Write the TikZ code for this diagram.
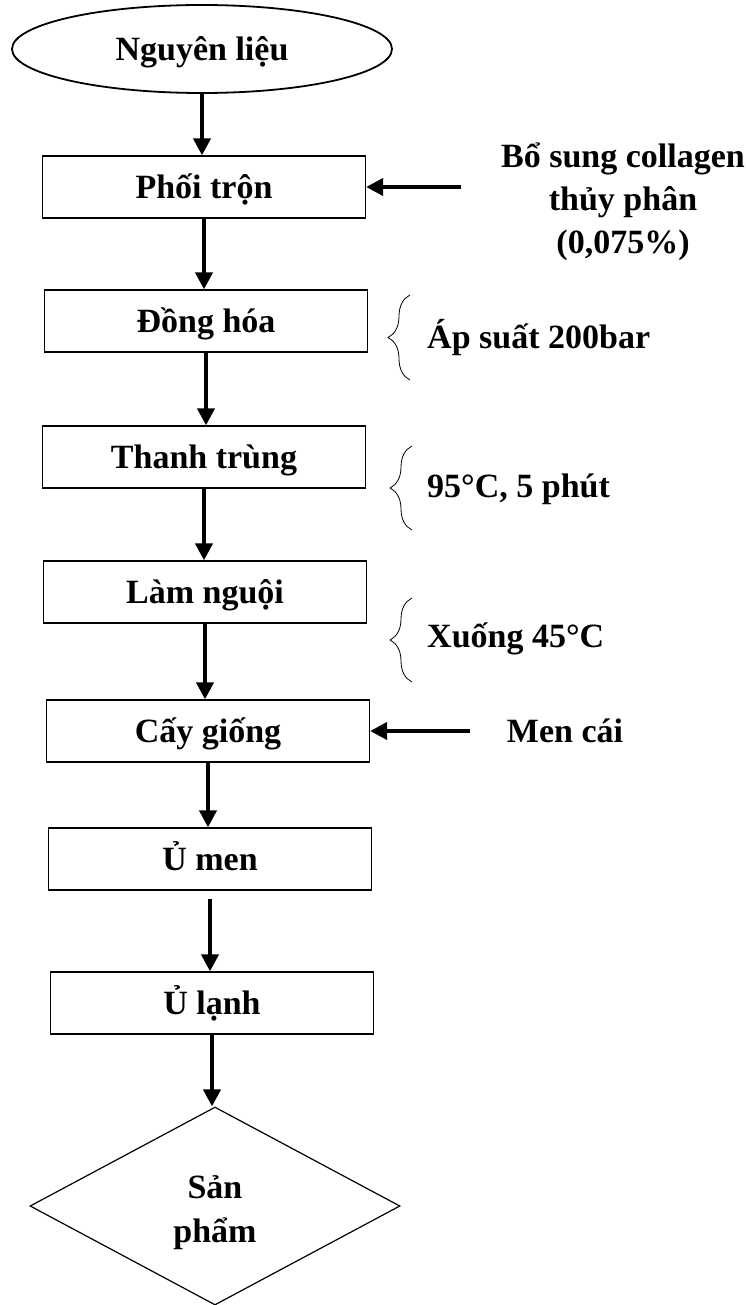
\documentclass[tikz,border=0pt]{standalone}
\usepackage{fontspec}
\setmainfont{Liberation Serif}
\usetikzlibrary{arrows.meta,positioning,shapes.geometric,decorations.pathreplacing}

\begin{document}
\begin{tikzpicture}[x=1pt,y=-1pt,
                font=\bfseries\fontsize{34}{43}\selectfont,
                flow/.style={-{Triangle[length=17pt,width=17pt]},line width=4pt},
                stage node/.style={rectangle,draw,line width=1.3pt,minimum width=323pt,minimum height=62pt,
                                   text height=24pt,text depth=1pt},
                note node/.style={inner sep=0pt,anchor=west},
                curly/.style={decorate,decoration={brace,amplitude=22pt},line width=0.8pt}]

      \useasboundingbox (0,0) rectangle (745,1305);

      \node[ellipse,draw,line width=1.8pt,minimum width=380pt,minimum height=88pt,
            text height=24pt,text depth=0pt] (nl) at (202,49) {Nguyên liệu};
      \node[stage node] (pt) at (204,187) {Phối trộn};
      \node[stage node] (dh) at (206,321) {Đồng hóa};
      \node[stage node] (tt) at (204,457) {Thanh trùng};
      \node[stage node] (ln) at (205,592) {Làm nguội};
      \node[stage node] (cg) at (208,731) {Cấy giống};
      \node[stage node] (um) at (210,859) {Ủ men};
      \node[stage node] (ul) at (212,1003) {Ủ lạnh};
      \node[diamond,draw,line width=1.2pt,aspect=1.85,minimum width=370pt,minimum height=198pt,
            align=center,font=\bfseries\fontsize{34}{44}\selectfont] (sp) at (215,1206) {};
      \node[align=center,font=\bfseries\fontsize{34}{44}\selectfont] (sptext) at (215,1213) {Sản\\phẩm};

      % main flow
      \draw[flow] (nl.south) -- (nl.south |- pt.north);
      \draw[flow] (pt.south) -- (pt.south |- dh.north);
      \draw[flow] (dh.south) -- (dh.south |- tt.north);
      \draw[flow] (tt.south) -- (tt.south |- ln.north);
      \draw[flow] (ln.south) -- (ln.south |- cg.north);
      \draw[flow] (cg.south) -- (cg.south |- um.north);
      \draw[flow,shorten <=8pt] (um.south) -- (um.south |- ul.north);
      \draw[flow] (ul.south) -- (ul.south |- sp.north);

      % inputs on the right
      \node[align=center] (col) at (623,202) {Bổ sung collagen\\thủy phân\\(0,075\%)};
      \coordinate (colin) at (461,187);
      \draw[flow] (colin) -- (pt.east);
      \node (men) at (565,731) {Men cái};
      \coordinate (menin) at (470,731);
      \draw[flow] (menin) -- (cg.east);

      % conditions
      \node[note node] (ap) at (427,338) {Áp suất 200bar};
      \draw[curly] (410,380) -- (410,295);
      \node[note node] (nhiet) at (427,489) {95°C, 5 phút};
      \draw[curly] (412,530) -- (412,446);
      \node[note node] (xuong) at (427,639) {Xuống 45°C};
      \draw[curly] (412,682) -- (412,598);
  \end{tikzpicture}
\end{document}
